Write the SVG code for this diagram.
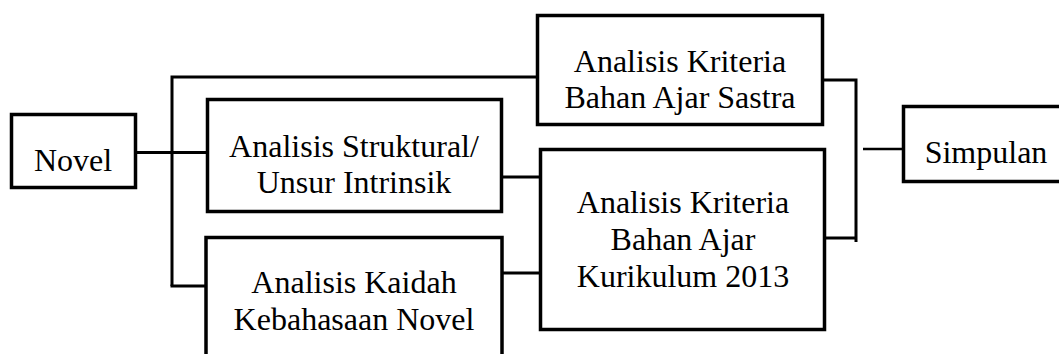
<svg xmlns="http://www.w3.org/2000/svg" width="1059" height="354" viewBox="0 0 1059 354">
<style>
.box{fill:#fff;stroke:#000;stroke-width:3.5}
.t{font-family:"Liberation Serif","Times New Roman",serif;font-size:32px;fill:#000;text-anchor:middle}
.c{fill:none;stroke:#000;stroke-width:3}
</style>
<rect width="1059" height="354" fill="#fff"/>
<g id="connectors">
<path class="c" d="M136 152.5H207"/>
<path class="c" d="M172 286V77H537"/>
<path class="c" d="M170.5 286H206"/>
<path class="c" d="M502 177H540"/>
<path class="c" d="M503 273H540"/>
<path class="c" d="M823 80H856V242"/>
<path class="c" d="M825 238H857"/>
<path class="c" d="M863 149H903" style="stroke-width:2.5"/>
</g>
<g id="novel">
<rect class="box" x="11.5" y="114.5" width="124" height="73"/>
<text class="t" x="73" y="171">Novel</text>
</g>
<g id="struktural">
<rect class="box" x="207.5" y="99.5" width="294" height="112"/>
<text class="t" x="354" y="157">Analisis Struktural/</text>
<text class="t" x="354" y="193">Unsur Intrinsik</text>
</g>
<g id="kaidah">
<rect class="box" x="206" y="237.5" width="296" height="130"/>
<text class="t" x="354" y="293">Analisis Kaidah</text>
<text class="t" x="354" y="330">Kebahasaan Novel</text>
</g>
<g id="sastra">
<rect class="box" x="537.5" y="15.5" width="285" height="109"/>
<text class="t" x="680" y="72">Analisis Kriteria</text>
<text class="t" x="680" y="108">Bahan Ajar Sastra</text>
</g>
<g id="kurikulum">
<rect class="box" x="540.5" y="149.5" width="284" height="180"/>
<text class="t" x="683" y="213">Analisis Kriteria</text>
<text class="t" x="683" y="250">Bahan Ajar</text>
<text class="t" x="683" y="287">Kurikulum 2013</text>
</g>
<g id="simpulan">
<rect class="box" x="903.5" y="106.5" width="170" height="75"/>
<text class="t" x="986" y="163">Simpulan</text>
</g>
</svg>
